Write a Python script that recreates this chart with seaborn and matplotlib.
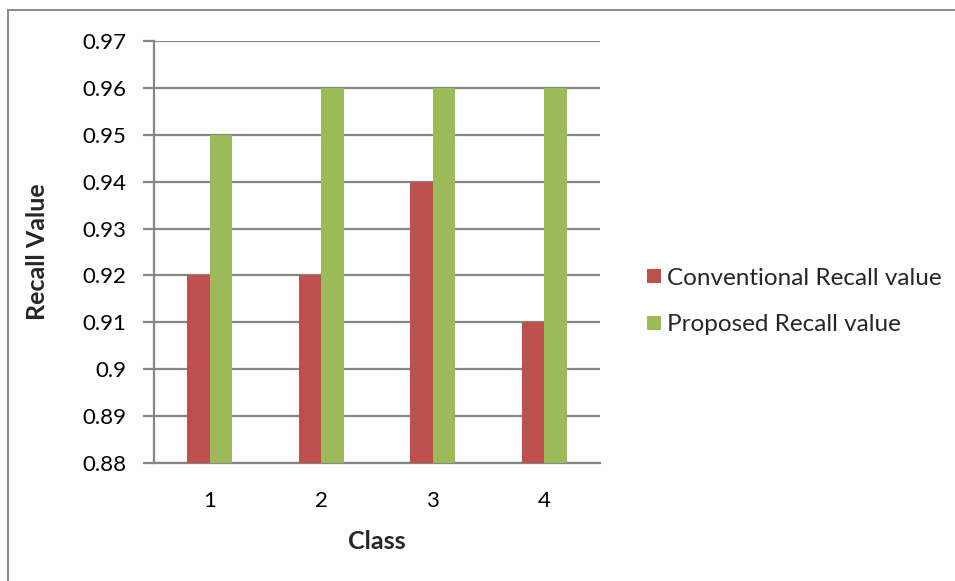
import matplotlib
matplotlib.use("Agg")
import matplotlib.pyplot as plt
from matplotlib.lines import Line2D
import pandas as pd
import seaborn as sns

classes = ["1", "2", "3", "4"]
conventional_recall = [0.92, 0.92, 0.94, 0.91]
proposed_recall = [0.95, 0.96, 0.96, 0.96]
series_names = ["Conventional Recall value", "Proposed Recall value"]
y_ticks = [0.88, 0.89, 0.90, 0.91, 0.92, 0.93, 0.94, 0.95, 0.96, 0.97]

df = pd.DataFrame({
    "Class": classes * 2,
    "Recall": conventional_recall + proposed_recall,
    "Series": [series_names[0]] * len(classes) + [series_names[1]] * len(classes),
})

sns.set_theme(style="white")
plt.rcParams["font.family"] = ["Lato", "DejaVu Sans"]

fig = plt.figure(figsize=(9.55, 5.81), dpi=100)
ax = fig.add_axes([0.1613, 0.2031, 0.467, 0.7263])

palette = {series_names[0]: "#C0504D", series_names[1]: "#9BBB59"}
sns.barplot(data=df, x="Class", y="Recall", hue="Series", palette=palette,
            width=0.4, saturation=1, ax=ax, legend=False, zorder=3,
            linewidth=0)

grid_color = "#868686"
ax.set_ylim(0.88, 0.97)
ax.set_xlim(-0.5, 3.5)
ax.set_yticks(y_ticks)
ax.set_yticklabels([f"{v:g}" for v in y_ticks])
ax.yaxis.grid(True, color=grid_color, linewidth=1.6, zorder=0)
ax.set_axisbelow(True)
for side in ["top", "right"]:
    ax.spines[side].set_visible(False)
for side in ["left", "bottom"]:
    ax.spines[side].set_color(grid_color)
    ax.spines[side].set_linewidth(1.6)
ax.tick_params(axis="y", which="major", left=True, length=8, width=1.6,
               color=grid_color, pad=12, labelsize=16, labelcolor="black")
ax.tick_params(axis="x", bottom=False, pad=14, labelsize=16, labelcolor="black")

ax.set_xlabel("Class", fontsize=18, fontweight="bold", labelpad=14)
ax.set_ylabel("Recall Value", fontsize=18, fontweight="bold", labelpad=24)

handles = [Line2D([0], [0], marker="s", linestyle="none", markersize=10,
                  markerfacecolor=palette[n], markeredgewidth=0) for n in series_names]
fig.legend(handles, series_names, loc="upper left", bbox_to_anchor=(0.664, 0.556),
           frameon=False, fontsize=17.5, handletextpad=0.15, labelspacing=1.05,
           handlelength=0.8, borderaxespad=0)

# chart frame edges
fig.add_artist(Line2D([8 / 955, 1.0], [1 - 10 / 581, 1 - 10 / 581],
                      transform=fig.transFigure, color="#8a8a8a", linewidth=1.4))
fig.add_artist(Line2D([8 / 955, 8 / 955], [0.0, 1 - 10 / 581],
                      transform=fig.transFigure, color="#8a8a8a", linewidth=1.4))

fig.savefig("out.png", dpi=100, facecolor="white")
